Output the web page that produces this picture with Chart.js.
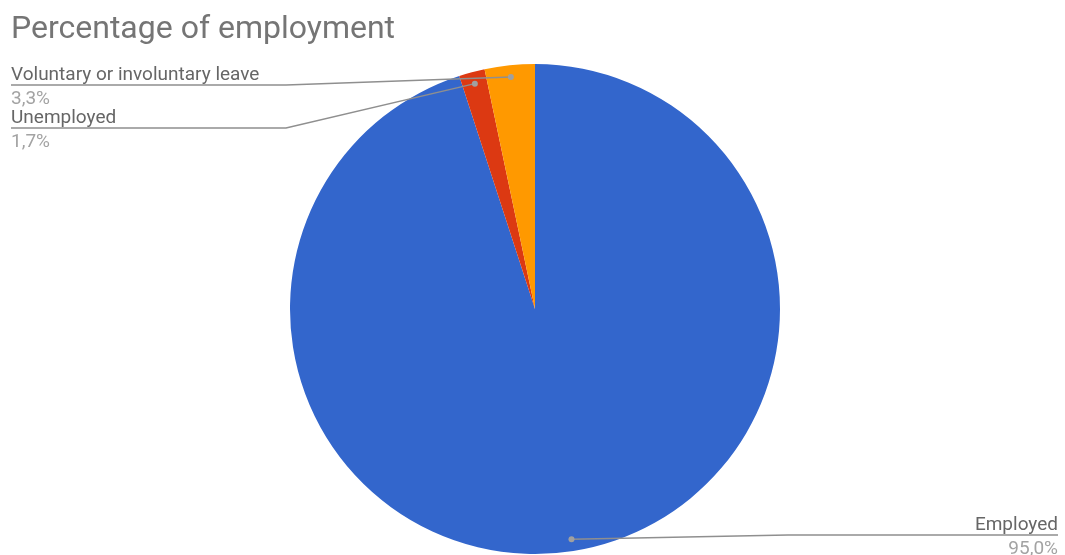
<!DOCTYPE html>
<html>
<head>
<meta charset="utf-8">
<title>Percentage of employment</title>
<script src="https://cdn.jsdelivr.net/npm/chart.js@4.4.1/dist/chart.umd.min.js"></script>
<style>
  html, body { margin: 0; padding: 0; background: #fff; }
  #wrap { position: relative; width: 1065px; height: 555px; }
</style>
</head>
<body>
<div id="wrap"><canvas id="employmentChart"></canvas></div>
<script>
// Data
const titleText = 'Percentage of employment';
const categories = ['Employed', 'Unemployed', 'Voluntary or involuntary leave'];
const shares = [95.0, 1.7, 3.3];
const shareLabels = ['95,0%', '1,7%', '3,3%'];
const sliceColors = ['#3366cc', '#dc3912', '#ff9900'];

// where each label sits: side of the chart, y of its underline, x where the leader bends
const labelLayout = [
    { side: 'right', lineY: 535, elbowX: 788 },
    { side: 'left', lineY: 128, elbowX: 286 },
    { side: 'left', lineY: 85, elbowX: 286 }
];

const leaderLabels = {
    id: 'leaderLabels',
    afterDraw(chart) {
        const ctx = chart.ctx;
        const arcs = chart.getDatasetMeta(0).data;

        // title
        ctx.save();
        ctx.font = '32px Roboto';
        ctx.fillStyle = '#757575';
        ctx.textAlign = 'left';
        ctx.textBaseline = 'alphabetic';
        ctx.fillText(titleText, 11, 38);
        ctx.restore();

        arcs.forEach(function(arc, i) {
            const p = arc.getProps(['x', 'y', 'startAngle', 'endAngle', 'outerRadius'], true);
            const mid = (p.startAngle + p.endAngle) / 2;
            const r = p.outerRadius * 0.952;
            const dx = p.x + Math.cos(mid) * r;
            const dy = p.y + Math.sin(mid) * r;
            const lay = labelLayout[i];
            const endX = lay.side === 'right' ? chart.width - 7 : 11;

            ctx.save();
            // leader line
            ctx.strokeStyle = '#8f8f8f';
            ctx.lineWidth = 1.5;
            ctx.beginPath();
            ctx.moveTo(dx, dy);
            ctx.lineTo(lay.elbowX, lay.lineY);
            ctx.lineTo(endX, lay.lineY);
            ctx.stroke();
            // dot on the slice
            ctx.fillStyle = '#a0a0a0';
            ctx.beginPath();
            ctx.arc(dx, dy, 3, 0, Math.PI * 2);
            ctx.fill();

            // label texts
            ctx.font = '19px Roboto';
            ctx.textAlign = lay.side === 'right' ? 'right' : 'left';
            ctx.textBaseline = 'alphabetic';
            ctx.fillStyle = '#666666';
            ctx.fillText(categories[i], endX, lay.lineY - 5);
            ctx.fillStyle = '#a3a3a3';
            ctx.fillText(shareLabels[i], endX, lay.lineY + 19);
            ctx.restore();
        });
    }
};

const ctx = document.getElementById('employmentChart').getContext('2d');
const employmentChart = new Chart(ctx, {
    type: 'pie',
    data: {
        labels: categories,
        datasets: [{
            data: shares,
            backgroundColor: sliceColors,
            borderWidth: 0,
            hoverOffset: 0
        }]
    },
    options: {
        responsive: true,
        maintainAspectRatio: false,
        animation: false,
        layout: {
            padding: { top: 64, bottom: 1, left: 5, right: 0 }
        },
        plugins: {
            legend: { display: false },
            tooltip: { enabled: false },
            title: { display: false }
        }
    },
    plugins: [leaderLabels]
});
</script>
</body>
</html>
